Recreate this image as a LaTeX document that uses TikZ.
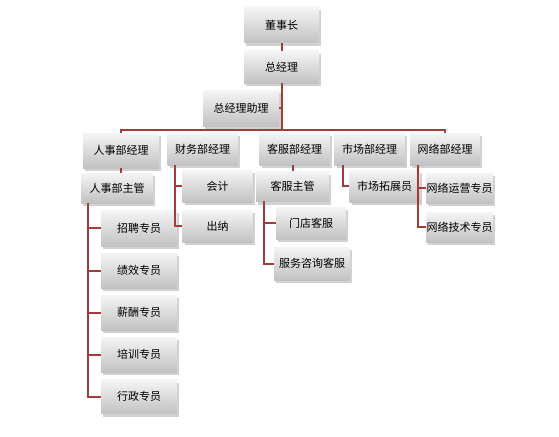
\documentclass[tikz,border=0pt]{standalone}
\usepackage{fontspec}
\setmainfont{Noto Sans CJK SC}
\usetikzlibrary{positioning,shadows}
\definecolor{linkred}{RGB}{165,60,58}

\begin{document}
\begin{tikzpicture}[x=1pt,y=-1pt,
    post/.style={shape=rectangle,top color=white!96!black,bottom color=black!24,
        draw=none,minimum width=70pt,minimum height=32pt,inner sep=0pt,
        font=\fontsize{11pt}{12pt}\selectfont,
        drop shadow={shadow xshift=2pt,shadow yshift=-3pt,opacity=0.3,fill=black!60}},
    wide/.style={post,minimum width=76pt},
    link/.style={draw=linkred,line width=2pt}]
    \useasboundingbox (0,0) rectangle (559,436);

            % top
            \node[wide,minimum width=75pt,minimum height=36pt] (dsz) at (281.5,25) {董事长};
            \node[wide,minimum width=75pt] (zjl) at (281.5,67) {总经理};
            \node[wide,minimum height=36pt] (zjlzl) at (241,108) {总经理助理};
            \coordinate (bus) at (281.5,130);

            % departments
            \node[wide,minimum height=35pt] (rsjl) at (121,150.5) {人事部经理};
            \node[post] (cwjl) at (202.5,149) {财务部经理};
            \node[post] (kfjl) at (294.5,149) {客服部经理};
            \node[post] (scjl) at (369.5,149) {市场部经理};
            \node[post] (wljl) at (445,149) {网络部经理};

            % staff
            \node[post,minimum width=72pt,minimum height=30pt] (rszg) at (117,188) {人事部主管};
            \node[wide,minimum height=36pt] (zp) at (139,228) {招聘专员};
            \node[wide,minimum height=35pt] (jx) at (139,270.5) {绩效专员};
            \node[wide,minimum height=35pt] (xc) at (139,312.5) {薪酬专员};
            \node[wide,minimum height=35pt] (px) at (139,354.5) {培训专员};
            \node[wide,minimum height=34pt] (xz) at (139,396.5) {行政专员};

            \node[post] (kj) at (217.5,186) {会计};
            \node[post] (cn) at (217.5,226) {出纳};

            \node[post,minimum width=73pt,minimum height=30pt] (kfzg) at (292.5,186.5) {客服主管};
            \node[post] (md) at (311,223) {门店客服};
            \node[wide,minimum height=33pt] (fw) at (312,263.5) {服务咨询客服};

            \node[post] (sctz) at (384.5,186) {市场拓展员};

            \node[post,minimum width=67pt,minimum height=30pt] (wlyy) at (459.5,188) {网络运营专员};
            \node[post,minimum width=67pt,minimum height=30pt] (wljs) at (459.5,227) {网络技术专员};

            % connectors
            \path [link] (dsz) -- (zjl);
            \path [link] (zjl) -- (bus);
            \path [link] (zjlzl.east) -- (zjlzl.east -| bus);
            \path [link] (rsjl.north) |- (bus) -| (wljl.north);
            \path [link] (rsjl.south) -- (rsjl.south |- rszg.north);
            \path [link] (kfzg.north) -- (kfzg.north |- kfjl.south);

            \coordinate (rsline) at (88,203);
            \path [link] (rsline) |- (xz.west);
            \foreach \n in {zp,jx,xc,px}
                \path [link] (rsline |- \n.west) -- (\n.west);

            \coordinate (cwline) at (175,165);
            \path [link] (cwline) |- (cn.west);
            \path [link] (cwline |- kj.west) -- (kj.west);

            \coordinate (kfline) at (264,201);
            \path [link] (kfline) |- (fw.west);
            \path [link] (kfline |- md.west) -- (md.west);

            \coordinate (scline) at (343,165);
            \path [link] (scline) |- (sctz.west);

            \coordinate (wlline) at (418,165);
            \path [link] (wlline) |- (wljs.west);
            \path [link] (wlline |- wlyy.west) -- (wlyy.west);
        \end{tikzpicture}
\end{document}
